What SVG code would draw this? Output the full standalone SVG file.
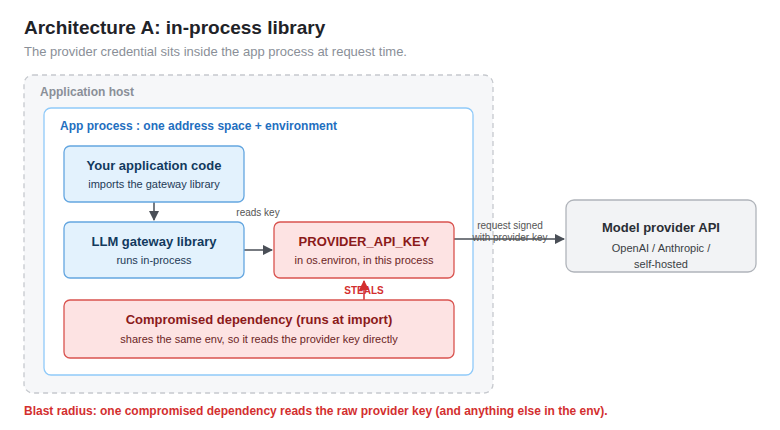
<svg xmlns="http://www.w3.org/2000/svg" width="780" height="430" viewBox="0 0 780 430">
<defs>
<style>
text{font-family:"Liberation Sans",Arial,Helvetica,sans-serif}
.t{font-size:13px;font-weight:bold;text-anchor:middle}
.s{font-size:11px;text-anchor:middle}
.blue rect{fill:#e3f2fd;stroke:#64a6e0;stroke-width:1.3}
.blue .t{fill:#123a5e}.blue .s{fill:#1e3a56}
.red rect{fill:#fde3e3;stroke:#d9534f;stroke-width:1.3}
.red .t{fill:#8b1a1a}.red .s{fill:#6b1f1f}
.lbl{font-size:10px;fill:#555;text-anchor:middle}
</style>
<marker id="ah" viewBox="0 0 10 10" refX="9" refY="5" markerWidth="7" markerHeight="7" orient="auto"><path d="M0,0 L10,5 L0,10 z" fill="#4a4f57"/></marker>
<marker id="ahr" viewBox="0 0 10 10" refX="9" refY="5" markerWidth="7" markerHeight="7" orient="auto"><path d="M0,0 L10,5 L0,10 z" fill="#d32f2f"/></marker>
</defs>
<rect width="780" height="430" fill="#fff"/>
<text x="24" y="34" font-size="19" font-weight="bold" fill="#1f2328">Architecture A: in-process library</text>
<text x="24" y="56" font-size="13" fill="#8a8f98">The provider credential sits inside the app process at request time.</text>

<g id="host">
<rect x="24" y="75" width="469" height="318" rx="9" fill="#f6f7f9" stroke="#c6c9ce" stroke-width="1.3" stroke-dasharray="5 4"/>
<text x="40" y="96" font-size="12" font-weight="bold" fill="#8a8f98">Application host</text>
</g>
<g id="process">
<rect x="44" y="108" width="429" height="267" rx="7" fill="#fff" stroke="#90caf9" stroke-width="1.3"/>
<text x="60" y="130" font-size="12" font-weight="bold" fill="#1f6fbf">App process : one address space + environment</text>
</g>

<g id="connectors" fill="none" stroke-width="1.5">
<line x1="154" y1="202" x2="154" y2="220" stroke="#4a4f57" marker-end="url(#ah)"/>
<line x1="244" y1="250" x2="272" y2="250" stroke="#4a4f57" marker-end="url(#ah)"/>
<line x1="454" y1="239" x2="564" y2="239" stroke="#4a4f57" marker-end="url(#ah)"/>
<line x1="364" y1="300" x2="364" y2="281" stroke="#d32f2f" marker-end="url(#ahr)"/>
<text x="258" y="216" class="lbl" stroke="none">reads key</text>
<text x="510" y="229" class="lbl" stroke="none">request signed</text>
<text x="510" y="241" class="lbl" stroke="none">with provider key</text>
<text x="364" y="294" font-size="10" font-weight="bold" fill="#d32f2f" text-anchor="middle" stroke="none">STEALS</text>
</g>

<g id="appcode" class="blue">
<rect x="64" y="146" width="180" height="56" rx="6"/>
<text x="154" y="170" class="t">Your application code</text>
<text x="154" y="188" class="s">imports the gateway library</text>
</g>
<g id="gateway" class="blue">
<rect x="64" y="222" width="180" height="56" rx="6"/>
<text x="154" y="246" class="t">LLM gateway library</text>
<text x="154" y="264" class="s">runs in-process</text>
</g>
<g id="apikey" class="red">
<rect x="274" y="222" width="180" height="56" rx="6"/>
<text x="364" y="246" class="t">PROVIDER_API_KEY</text>
<text x="364" y="264" class="s">in os.environ, in this process</text>
</g>
<g id="compromised" class="red">
<rect x="64" y="300" width="390" height="58" rx="6"/>
<text x="259" y="324" class="t">Compromised dependency (runs at import)</text>
<text x="259" y="343" class="s">shares the same env, so it reads the provider key directly</text>
</g>
<g id="provider">
<rect x="566" y="200" width="190" height="72" rx="8" fill="#f2f3f5" stroke="#b0b4ba" stroke-width="1.3"/>
<text x="661" y="232" class="t" fill="#2a2e34">Model provider API</text>
<text x="661" y="252" class="s" fill="#3a3e44">OpenAI / Anthropic /</text>
<text x="661" y="268" class="s" fill="#3a3e44">self-hosted</text>
</g>

<text x="24" y="415" font-size="12" font-weight="bold" fill="#d32f2f">Blast radius: one compromised dependency reads the raw provider key (and anything else in the env).</text>
</svg>
